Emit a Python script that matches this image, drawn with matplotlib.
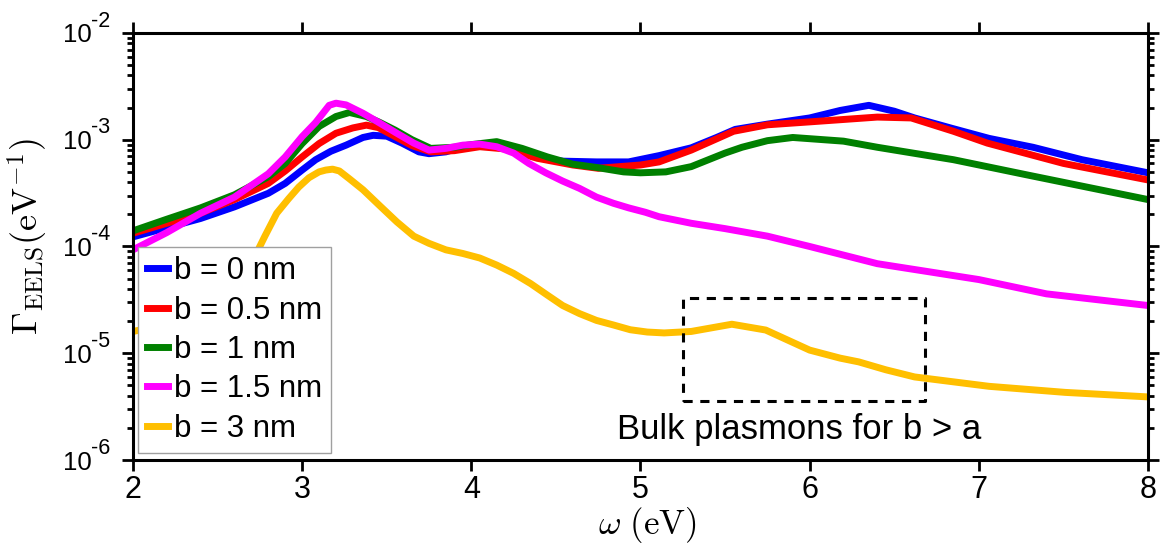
import numpy as np
import matplotlib
matplotlib.use('Agg')
from matplotlib import pyplot as plt
from matplotlib.ticker import FixedLocator, LogLocator, NullFormatter
from matplotlib.transforms import blended_transform_factory

plt.rcParams['font.family'] = ['Liberation Sans', 'DejaVu Sans']

# b = 0 nm
w_b0 = [2.0, 2.2, 2.4, 2.6, 2.8, 2.9, 3.0, 3.08, 3.17, 3.26, 3.36, 3.42, 3.5,
        3.59, 3.69, 3.75, 3.85, 3.95, 4.05, 4.15, 4.25, 4.34, 4.44, 4.54,
        4.74, 4.93, 5.11, 5.3, 5.45, 5.56, 5.75, 6.0, 6.18, 6.35, 6.5, 6.62,
        6.84, 7.06, 7.32, 7.61, 8.0]
g_b0 = [1.23e-4, 1.5e-4, 1.83e-4, 2.35e-4, 3.15e-4, 3.9e-4, 5.2e-4, 6.5e-4,
        7.8e-4, 8.9e-4, 1.05e-3, 1.1e-3, 1.08e-3, 9.3e-4, 7.7e-4, 7.4e-4,
        7.7e-4, 8.6e-4, 9.1e-4, 9.1e-4, 8.3e-4, 7.2e-4, 6.6e-4, 6.3e-4,
        6.2e-4, 6.2e-4, 7.1e-4, 8.4e-4, 1.05e-3, 1.25e-3, 1.4e-3, 1.6e-3,
        1.88e-3, 2.1e-3, 1.85e-3, 1.6e-3, 1.28e-3, 1.03e-3, 8.5e-4, 6.5e-4,
        4.9e-4]

# b = 0.5 nm
w_b05 = [2.0, 2.2, 2.4, 2.6, 2.8, 2.9, 3.0, 3.1, 3.2, 3.3, 3.38, 3.45, 3.55,
         3.65, 3.76, 3.9, 4.05, 4.2, 4.39, 4.6, 4.75, 5.0, 5.11, 5.3, 5.45,
         5.55, 5.75, 6.0, 6.4, 6.6, 6.85, 7.05, 7.5, 8.0]
g_b05 = [1.33e-4, 1.65e-4, 2.05e-4, 2.75e-4, 3.9e-4, 5.1e-4, 6.9e-4, 9.2e-4,
         1.15e-3, 1.29e-3, 1.37e-3, 1.3e-3, 1.07e-3, 8.8e-4, 7.7e-4, 7.9e-4,
         8.6e-4, 8.2e-4, 6.7e-4, 5.8e-4, 5.4e-4, 5.8e-4, 6.2e-4, 8.0e-4,
         1.02e-3, 1.2e-3, 1.38e-3, 1.47e-3, 1.63e-3, 1.6e-3, 1.2e-3, 9.3e-4,
         6.0e-4, 4.2e-4]

# b = 1 nm
w_b1 = [2.0, 2.2, 2.4, 2.6, 2.8, 2.9, 3.0, 3.1, 3.2, 3.28, 3.38, 3.46, 3.55,
        3.65, 3.76, 3.9, 4.0, 4.15, 4.3, 4.45, 4.6, 4.74, 4.9, 5.0, 5.15,
        5.3, 5.5, 5.6, 5.75, 5.9, 6.2, 6.4, 6.85, 7.28, 8.0]
g_b1 = [1.4e-4, 1.8e-4, 2.3e-4, 3.05e-4, 4.5e-4, 6.0e-4, 9.2e-4, 1.33e-3,
        1.65e-3, 1.8e-3, 1.65e-3, 1.45e-3, 1.23e-3, 1.0e-3, 8.3e-4, 8.5e-4,
        9.0e-4, 9.6e-4, 8.3e-4, 6.9e-4, 5.9e-4, 5.5e-4, 5.0e-4, 4.9e-4,
        5.0e-4, 5.6e-4, 7.5e-4, 8.5e-4, 9.8e-4, 1.05e-3, 9.7e-4, 8.5e-4,
        6.5e-4, 4.7e-4, 2.75e-4]

# b = 1.5 nm
w_b15 = [2.0, 2.2, 2.4, 2.6, 2.8, 2.9, 3.0, 3.08, 3.16, 3.2, 3.26, 3.36, 3.46,
         3.56, 3.66, 3.75, 3.85, 3.95, 4.05, 4.15, 4.25, 4.34, 4.44, 4.54,
         4.64, 4.74, 4.84, 4.93, 5.03, 5.11, 5.3, 5.5, 5.75, 6.0, 6.4, 7.0,
         7.4, 8.0]
g_b15 = [9.3e-5, 1.35e-4, 2.05e-4, 2.9e-4, 4.8e-4, 6.9e-4, 1.07e-3, 1.45e-3,
         2.1e-3, 2.2e-3, 2.12e-3, 1.77e-3, 1.43e-3, 1.15e-3, 9.3e-4, 8.0e-4,
         8.3e-4, 8.9e-4, 9.1e-4, 8.6e-4, 7.5e-4, 6.0e-4, 4.9e-4, 4.1e-4,
         3.5e-4, 2.9e-4, 2.54e-4, 2.3e-4, 2.09e-4, 1.9e-4, 1.65e-4, 1.47e-4,
         1.25e-4, 1.0e-4, 6.9e-5, 4.9e-5, 3.6e-5, 2.8e-5]

# b = 3 nm
w_b3 = [2.0, 2.3, 2.5, 2.6, 2.68, 2.74, 2.78, 2.85, 2.92, 2.98, 3.04, 3.1,
        3.14, 3.18, 3.22, 3.28, 3.36, 3.46, 3.56, 3.66, 3.75, 3.85, 3.95,
        4.05, 4.15, 4.25, 4.35, 4.45, 4.54, 4.64, 4.74, 4.84, 4.94, 5.04,
        5.14, 5.3, 5.54, 5.74, 6.0, 6.18, 6.29, 6.45, 6.62, 7.06, 7.51, 8.0]
g_b3 = [1.6e-5, 2.0e-5, 2.6e-5, 3.6e-5, 5.5e-5, 9.3e-5, 1.25e-4, 2.05e-4,
        2.8e-4, 3.6e-4, 4.4e-4, 5.0e-4, 5.2e-4, 5.3e-4, 5.1e-4, 4.3e-4,
        3.4e-4, 2.4e-4, 1.7e-4, 1.25e-4, 1.07e-4, 9.3e-5, 8.6e-5, 7.8e-5,
        6.7e-5, 5.6e-5, 4.5e-5, 3.5e-5, 2.8e-5, 2.35e-5, 2.03e-5, 1.84e-5,
        1.66e-5, 1.58e-5, 1.55e-5, 1.6e-5, 1.87e-5, 1.65e-5, 1.07e-5, 9.0e-6,
        8.3e-6, 7.0e-6, 6.0e-6, 4.9e-6, 4.3e-6, 3.9e-6]

labels = ['b = 0 nm', 'b = 0.5 nm', 'b = 1 nm', 'b = 1.5 nm', 'b = 3 nm']
colors = ['#0000FF', '#FF0000', '#008000', '#FF00FF', '#FFBF00']

decades = [-6, -5, -4, -3, -2]
box_w = [5.25, 6.68]
box_g = [3.6e-6, 3.3e-5]
note = 'Bulk plasmons for b > a'

fig = plt.figure(figsize=(11.66, 5.46), dpi=100)
ax = fig.add_axes([0.114, 0.1575, 0.8706, 0.7821])

series = [(w_b0, g_b0), (w_b05, g_b05), (w_b1, g_b1), (w_b15, g_b15), (w_b3, g_b3)]
for (w, g), lab, c in zip(series, labels, colors):
    ax.plot(w, g, color=c, lw=5, label=lab, solid_joinstyle='round')

ax.set_yscale('log')
ax.set_xlim(2, 8)
ax.set_ylim(1e-6, 1e-2)

# dashed box + note
ax.plot([box_w[0], box_w[1], box_w[1], box_w[0], box_w[0]],
        [box_g[0], box_g[0], box_g[1], box_g[1], box_g[0]],
        color='black', lw=2.2, ls=(0, (3, 2.5)))
ax.text(np.mean(box_w) - 0.025, 1.57e-6, note, ha='center', va='baseline',
        fontsize=25)

ax.xaxis.set_major_locator(FixedLocator(np.arange(2, 9)))
ax.yaxis.set_major_locator(FixedLocator([10.0 ** d for d in decades]))
ax.yaxis.set_minor_locator(LogLocator(base=10, subs=np.arange(2, 10), numticks=20))
ax.yaxis.set_minor_formatter(NullFormatter())
ax.yaxis.set_major_formatter(lambda v, p: '10')

ax.tick_params(which='both', direction='out', top=True, right=True, width=2)
ax.tick_params(which='major', length=8)
ax.tick_params(which='minor', length=4.5)
ax.tick_params(axis='x', labelsize=22, pad=3)
ax.tick_params(axis='y', labelsize=18.5, pad=22)
for s in ax.spines.values():
    s.set_linewidth(2.2)

# MATLAB style exponents next to the "10"
tr = blended_transform_factory(ax.transAxes, ax.transData)
for d in decades:
    ax.annotate('%d' % d, xy=(0, 10.0 ** d), xycoords=tr, xytext=(-30.5, 4.5),
                textcoords='offset points', ha='left', va='baseline',
                fontsize=15.5, annotation_clip=False)

ax.set_xlabel(r'$\omega\ (\mathrm{eV})$', fontsize=25, math_fontfamily='cm')
ax.set_ylabel(r'$\Gamma_{\mathrm{EELS}}(\mathrm{eV}^{-1})$', fontsize=26,
              math_fontfamily='cm')
ax.xaxis.set_label_coords(0.507, -0.105)
ax.yaxis.set_label_coords(-0.082, 0.523)

leg = ax.legend(loc='lower left', bbox_to_anchor=(0.005, 0.016), borderaxespad=0,
                fontsize=22.5, handlelength=0.65, handletextpad=0.2,
                labelspacing=0.3, borderpad=0.3, fancybox=False, framealpha=1)
leg.get_frame().set_edgecolor('#a0a0a0')
leg.get_frame().set_linewidth(1)

fig.savefig('out.png', dpi=100)
